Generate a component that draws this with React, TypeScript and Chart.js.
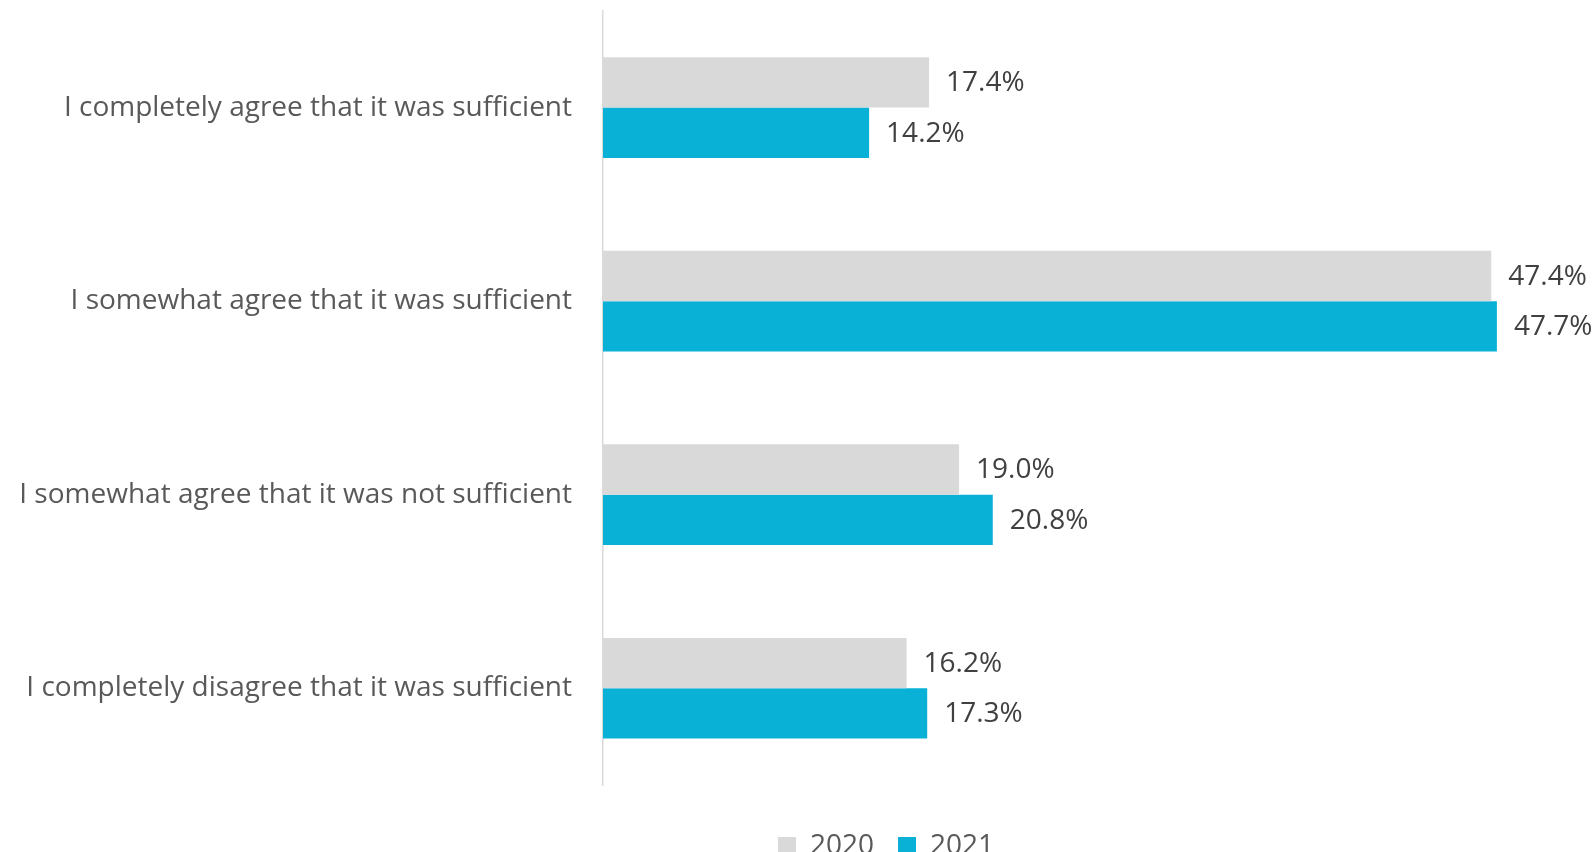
import React, { useEffect, useRef } from "react";
import { Chart, registerables } from "chart.js";

Chart.register(...registerables);

const categories = [
  "I completely agree that it was sufficient",
  "I somewhat agree that it was sufficient",
  "I somewhat agree that it was not sufficient",
  "I completely disagree that it was sufficient",
];
const values2020 = [17.4, 47.4, 19.0, 16.2];
const values2021 = [14.2, 47.7, 20.8, 17.3];
const seriesLabels = ["2020", "2021"];

const FONT = "'Open Sans', 'Noto Sans', sans-serif";

const valueLabelPlugin = {
  id: "valueLabels",
  afterDatasetsDraw(chart: any) {
    const ctx = chart.ctx;
    ctx.save();
    ctx.font = `28px ${FONT}`;
    ctx.fillStyle = "#404040";
    ctx.textAlign = "left";
    ctx.textBaseline = "middle";
    chart.data.datasets.forEach((ds: any, di: number) => {
      const meta = chart.getDatasetMeta(di);
      meta.data.forEach((bar: any, i: number) => {
        const v = ds.data[i] as number;
        ctx.fillText(v.toFixed(1) + "%", bar.x + 17, bar.y + 1);
      });
    });
    ctx.restore();
  },
};

const legendShiftPlugin = {
  id: "legendShift",
  afterLayout(chart: any) {
    if (chart.legend) {
      chart.legend.left += 116;
      chart.legend.right += 116;
    }
  },
};

export default function App() {
  const ref = useRef<HTMLCanvasElement | null>(null);
  useEffect(() => {
    if (!ref.current) return;
    const chart = new Chart(ref.current, {
      type: "bar",
      data: {
        labels: categories,
        datasets: [
          {
            label: seriesLabels[0],
            data: values2020,
            backgroundColor: "#D9D9D9",
            barPercentage: 1,
            categoryPercentage: 0.52,
          },
          {
            label: seriesLabels[1],
            data: values2021,
            backgroundColor: "#0AB1D6",
            barPercentage: 1,
            categoryPercentage: 0.52,
          },
        ],
      },
      options: {
        indexAxis: "y",
        animation: false,
        responsive: true,
        maintainAspectRatio: false,
        layout: { padding: { top: 10, right: 56, left: 0, bottom: 0 } },
        scales: {
          x: {
            min: 0,
            max: 50,
            display: true,
            grid: { display: false, drawTicks: false },
            border: { display: false },
            ticks: { display: false },
            afterFit: (s: any) => {
              s.height = 23;
            },
          },
          y: {
            grid: { display: false, drawTicks: false },
            border: { display: true, color: "#D9D9D9", width: 1.5 },
            ticks: {
              color: "#595959",
              font: { family: FONT, size: 28 },
              padding: 31,
            },
            afterFit: (s: any) => {
              s.width = 603;
            },
          },
        },
        plugins: {
          legend: {
            position: "bottom",
            labels: {
              boxWidth: 18,
              boxHeight: 18,
              padding: 24,
              color: "#595959",
              font: { family: FONT, size: 28 },
            },
          },
          tooltip: { enabled: false },
        },
      },
      plugins: [valueLabelPlugin, legendShiftPlugin],
    });
    return () => chart.destroy();
  }, []);
  return (
    <div style={{ position: "fixed", left: 0, top: 0, width: 1596, height: 852, overflow: "hidden", background: "#fff" }}>
      <div style={{ position: "absolute", left: 0, top: -37, width: 1596, height: 907 }}>
        <canvas ref={ref} />
      </div>
    </div>
  );
}
